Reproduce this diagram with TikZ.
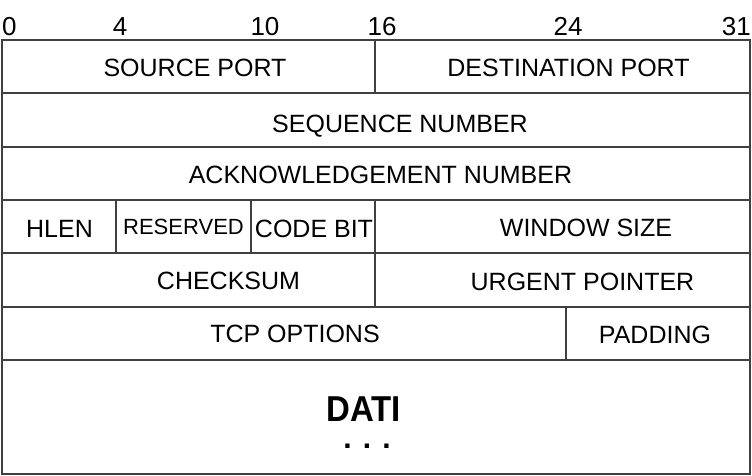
\documentclass[tikz,border=0pt]{standalone}
\usepackage{fontspec}
\setmainfont{Liberation Sans}
\begin{document}
\begin{tikzpicture}[x=1pt,y=-1pt,
  field/.style={draw=black!75, line width=1.1pt, rectangle, inner sep=0pt, outer sep=0pt},
  fieldtext/.style={inner sep=0pt, anchor=base, font=\fontsize{25}{25}\selectfont},
  bitnum/.style={inner sep=0pt, font=\fontsize{26}{26}\selectfont, anchor=base}]
\useasboundingbox (0,0) rectangle (752,476);
\fill[white] (0,0) rectangle (752,476);

% bit positions
\node[bitnum, anchor=base west] (b0)  at (2,36)   {0};
\node[bitnum] (b4)  at (120,36) {4};
\node[bitnum] (b10) at (265,36) {10};
\node[bitnum] (b16) at (382,36) {16};
\node[bitnum] (b24) at (568,36) {24};
\node[bitnum, anchor=base east] (b31) at (751,36) {31};

% field boxes
\node[field, minimum width=373pt, minimum height=53pt] (src)  at (188.5,66.5) {};
\node[field, minimum width=375pt, minimum height=53pt] (dst)  at (562.5,66.5) {};
\node[field, minimum width=748pt, minimum height=54pt] (seq)  at (376,120) {};
\node[field, minimum width=748pt, minimum height=53pt] (ack)  at (376,173.5) {};
\node[field, minimum width=114pt, minimum height=53pt] (hlen) at (59,226.5) {};
\node[field, minimum width=135pt, minimum height=53pt] (res)  at (183.5,226.5) {};
\node[field, minimum width=124pt, minimum height=53pt] (code) at (313,226.5) {};
\node[field, minimum width=375pt, minimum height=53pt] (win)  at (562.5,226.5) {};
\node[field, minimum width=373pt, minimum height=54pt] (chk)  at (188.5,280) {};
\node[field, minimum width=375pt, minimum height=54pt] (urg)  at (562.5,280) {};
\node[field, minimum width=564pt, minimum height=53pt] (opt)  at (284,333.5) {};
\node[field, minimum width=184pt, minimum height=53pt] (pad)  at (658,333.5) {};
\node[field, minimum width=748pt, minimum height=114pt] (data) at (376,417) {};

% field names
\node[fieldtext] (srcT)  at (195,77)    {SOURCE PORT};
\node[fieldtext] (dstT)  at (568.5,77)  {DESTINATION PORT};
\node[fieldtext] (seqT)  at (400,132.5) {SEQUENCE NUMBER};
\node[fieldtext] (ackT)  at (380.5,183.5) {ACKNOWLEDGEMENT NUMBER};
\node[fieldtext] (hlenT) at (59.5,237.5) {HLEN};
\node[fieldtext, font=\fontsize{22}{22}\selectfont] (resT) at (183.5,234.5) {RESERVED};
\node[fieldtext] (codeT) at (314,237.5) {CODE BIT};
\node[fieldtext] (winT)  at (586,236)   {WINDOW SIZE};
\node[fieldtext] (chkT)  at (228.5,289.5) {CHECKSUM};
\node[fieldtext] (urgT)  at (582.5,290) {URGENT POINTER};
\node[fieldtext] (optT)  at (295,342.5) {TCP OPTIONS};
\node[fieldtext] (padT)  at (655,343)   {PADDING};

% payload
\node[inner sep=0pt, anchor=base, text depth=0pt, font=\fontsize{36}{36}\selectfont\bfseries] (dati) at (363.5,421.5) {\scalebox{0.915}[1]{DATI}};
\node[inner sep=0pt, anchor=base, text height=5pt, font=\fontsize{30}{30}\selectfont\bfseries] (dots) at (367,448.5) {. . .};
\end{tikzpicture}
\end{document}
